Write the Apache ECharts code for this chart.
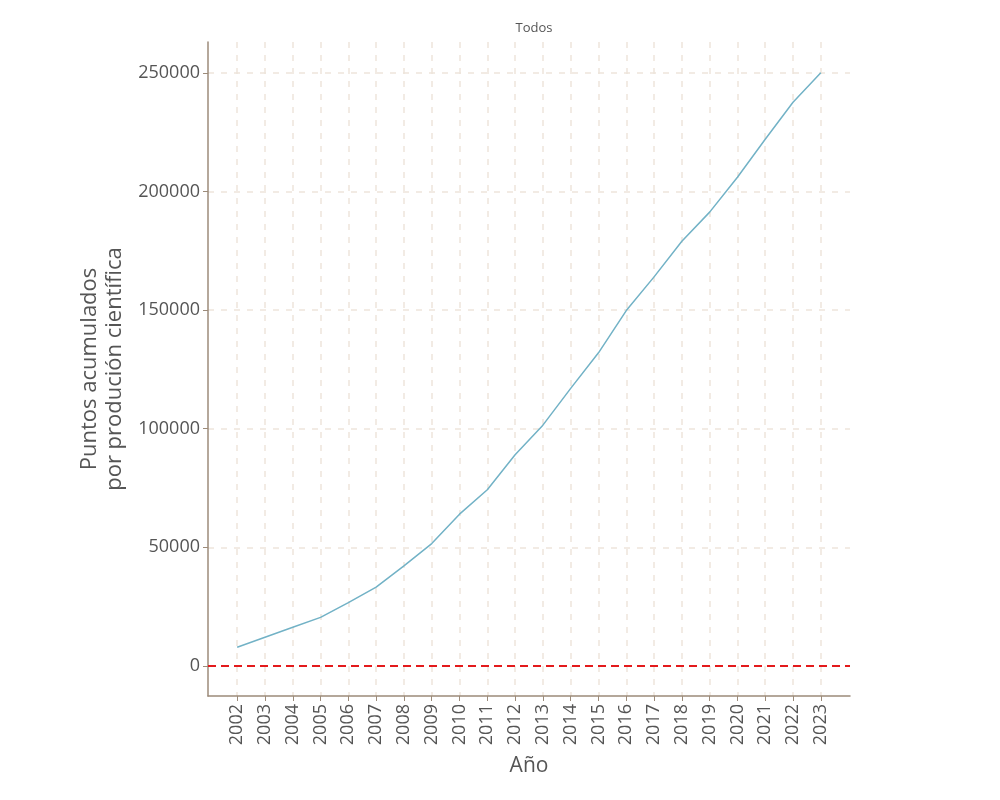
<!DOCTYPE html>
<html>
<head>
<meta charset="utf-8">
<script src="https://cdn.jsdelivr.net/npm/echarts@6/dist/echarts.min.js"></script>
<style>html,body{margin:0;padding:0;background:#fff}#chart{width:1000px;height:800px}</style>
</head>
<body>
<div id="chart"></div>
<script>
const years = [2002,2003,2004,2005,2006,2007,2008,2009,2010,2011,2012,2013,2014,2015,2016,2017,2018,2019,2020,2021,2022,2023];
const cumulativePoints = [7900,12100,16300,20500,26700,33200,42200,51600,64000,74300,89000,101500,117000,132000,149800,164000,179000,191300,206000,222000,237600,250000];
const yTicks = [0,50000,100000,150000,200000,250000];
const title = 'Todos';
const yName = 'Puntos acumulados\npor produción científica';
const xName = 'Año';

const chart = echarts.init(document.getElementById('chart'));
const font = 'Open Sans';
const axisCol = '#9c8b7a';
const gridCol = '#eee5db';
chart.setOption({
  animation: false,
  title: {text: title, left: 529, top: 17, textAlign: 'center',
    textStyle: {fontFamily: font, fontSize: 13, fontWeight: 'normal', color: '#555'}},
  grid: {left: 208, right: 150, top: 42, bottom: 104, containLabel: false},
  xAxis: {
    type: 'value', min: 2000.95, max: 2024.05,
    name: xName, nameLocation: 'middle', nameGap: 60,
    nameTextStyle: {fontFamily: font, fontSize: 21, color: '#555'},
    axisLine: {show: true, onZero: false, lineStyle: {color: axisCol, width: 1.5}},
    axisTick: {show: true, customValues: years, length: 5, lineStyle: {color: axisCol}},
    axisLabel: {customValues: years, rotate: 90, fontFamily: font, fontSize: 18, color: '#555', margin: 8,
      formatter: v => String(v)},
    splitLine: {show: true, lineStyle: {color: gridCol, type: [6, 7], width: 1.5}}
  },
  yAxis: {
    type: 'value', min: -12650, max: 263000,
    name: yName, nameLocation: 'middle', nameGap: 80,
    nameTextStyle: {fontFamily: font, fontSize: 22, color: '#555', lineHeight: 25},
    axisLine: {show: true, onZero: false, lineStyle: {color: axisCol, width: 1.5}},
    axisTick: {show: true, customValues: yTicks, length: 5, lineStyle: {color: axisCol}},
    axisLabel: {customValues: yTicks, fontFamily: font, fontSize: 18, color: '#555', margin: 8,
      formatter: v => String(v)},
    splitLine: {show: true, lineStyle: {color: gridCol, type: [6, 7], width: 1.5}}
  },
  series: [{
    type: 'line',
    data: years.map((y, i) => [y, cumulativePoints[i]]),
    showSymbol: false,
    lineStyle: {color: '#72b2c6', width: 1.5},
    markLine: {
      silent: true, symbol: 'none', label: {show: false},
      lineStyle: {color: '#e31a1c', type: [8, 5], width: 2},
      data: [{yAxis: 0}]
    }
  }]
});
</script>
</body>
</html>
